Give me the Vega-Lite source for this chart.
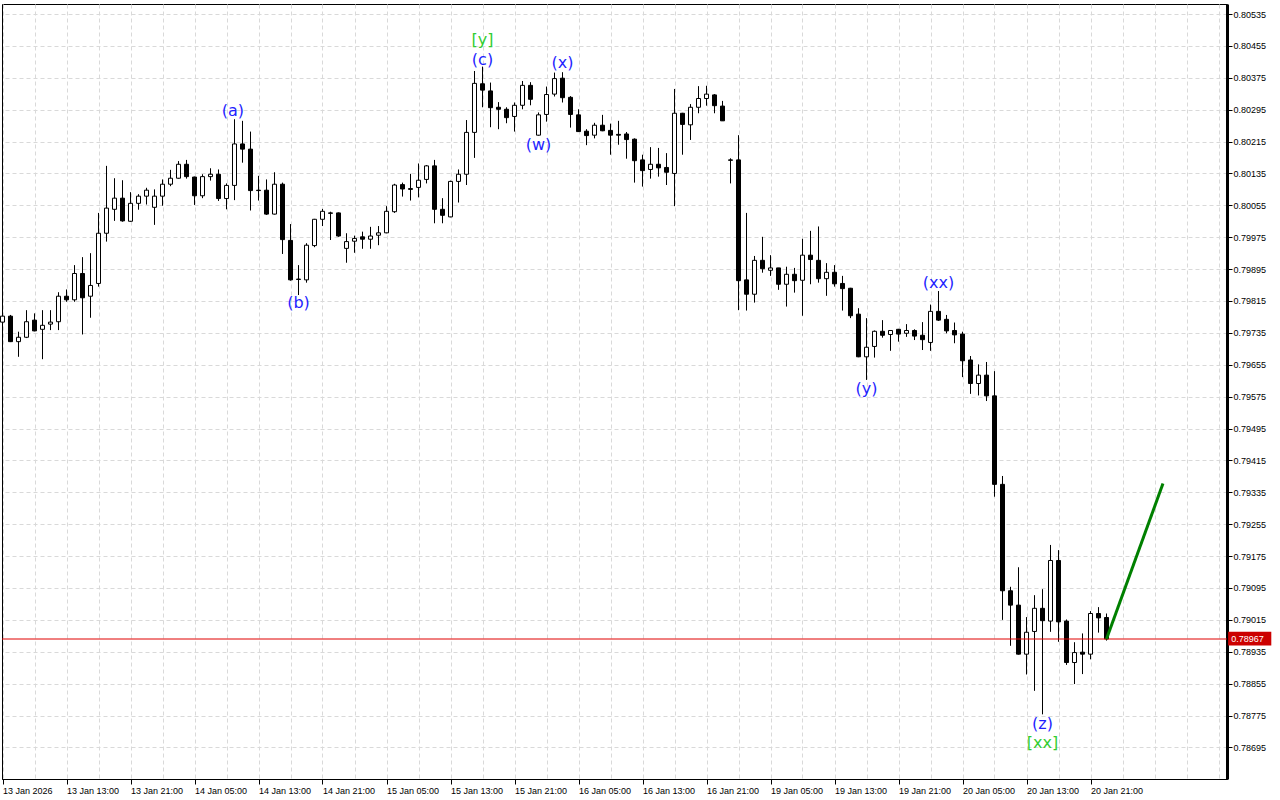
{
  "$schema": "https://vega.github.io/schema/vega-lite/v6.json",
  "width": 1225,
  "height": 775,
  "autosize": {"type": "none"},
  "padding": {"left": 2, "top": 4, "right": 53, "bottom": 21},
  "background": "white",
  "config": {
    "view": {"stroke": "black", "strokeWidth": 1},
    "axis": {"labelOverlap": false, "labelBound": false, "labelFlush": false},
    "scale": {"continuousPadding": 0}
  },
  "datasets": {
    "candles": [
      {"i":0,"o":0.79762,"h":0.79782,"l":0.79760,"c":0.79777},
      {"i":1,"o":0.79777,"h":0.79780,"l":0.79712,"c":0.79713},
      {"i":2,"o":0.79713,"h":0.79738,"l":0.79675,"c":0.79724},
      {"i":3,"o":0.79724,"h":0.79792,"l":0.79722,"c":0.79763},
      {"i":4,"o":0.79767,"h":0.79784,"l":0.79739,"c":0.79740},
      {"i":5,"o":0.79744,"h":0.79792,"l":0.79669,"c":0.79754},
      {"i":6,"o":0.79757,"h":0.79792,"l":0.79742,"c":0.79762},
      {"i":7,"o":0.79763,"h":0.79837,"l":0.79742,"c":0.79827},
      {"i":8,"o":0.79827,"h":0.79844,"l":0.79813,"c":0.79818},
      {"i":9,"o":0.79818,"h":0.79905,"l":0.79813,"c":0.79884},
      {"i":10,"o":0.79884,"h":0.79925,"l":0.79731,"c":0.79823},
      {"i":11,"o":0.79827,"h":0.79935,"l":0.79773,"c":0.79854},
      {"i":12,"o":0.79859,"h":0.80036,"l":0.79851,"c":0.79985},
      {"i":13,"o":0.79985,"h":0.80154,"l":0.79964,"c":0.80048},
      {"i":14,"o":0.80045,"h":0.80123,"l":0.80016,"c":0.80073},
      {"i":15,"o":0.80073,"h":0.80118,"l":0.80014,"c":0.80016},
      {"i":16,"o":0.80015,"h":0.80088,"l":0.80014,"c":0.80060},
      {"i":17,"o":0.80060,"h":0.80083,"l":0.80044,"c":0.80078},
      {"i":18,"o":0.80078,"h":0.80099,"l":0.80057,"c":0.80093},
      {"i":19,"o":0.80050,"h":0.80095,"l":0.80006,"c":0.80078},
      {"i":20,"o":0.80078,"h":0.80120,"l":0.80054,"c":0.80108},
      {"i":21,"o":0.80108,"h":0.80144,"l":0.80103,"c":0.80123},
      {"i":22,"o":0.80123,"h":0.80166,"l":0.80122,"c":0.80158},
      {"i":23,"o":0.80158,"h":0.80169,"l":0.80122,"c":0.80127},
      {"i":24,"o":0.80126,"h":0.80127,"l":0.80056,"c":0.80079},
      {"i":25,"o":0.80079,"h":0.80133,"l":0.80073,"c":0.80127},
      {"i":26,"o":0.80127,"h":0.80148,"l":0.80117,"c":0.80133},
      {"i":27,"o":0.80133,"h":0.80145,"l":0.80066,"c":0.80072},
      {"i":28,"o":0.80072,"h":0.80110,"l":0.80045,"c":0.80105},
      {"i":29,"o":0.80105,"h":0.80271,"l":0.80068,"c":0.80209},
      {"i":30,"o":0.80209,"h":0.80267,"l":0.80162,"c":0.80196},
      {"i":31,"o":0.80196,"h":0.80240,"l":0.80042,"c":0.80092},
      {"i":32,"o":0.80093,"h":0.80129,"l":0.80067,"c":0.80092},
      {"i":33,"o":0.80093,"h":0.80120,"l":0.80031,"c":0.80033},
      {"i":34,"o":0.80033,"h":0.80138,"l":0.80032,"c":0.80108},
      {"i":35,"o":0.80108,"h":0.80112,"l":0.79933,"c":0.79969},
      {"i":36,"o":0.79967,"h":0.80008,"l":0.79866,"c":0.79868},
      {"i":37,"o":0.79870,"h":0.79905,"l":0.79830,"c":0.79869},
      {"i":38,"o":0.79868,"h":0.79960,"l":0.79861,"c":0.79955},
      {"i":39,"o":0.79954,"h":0.80021,"l":0.79950,"c":0.80020},
      {"i":40,"o":0.80020,"h":0.80046,"l":0.80003,"c":0.80040},
      {"i":41,"o":0.80036,"h":0.80039,"l":0.79968,"c":0.80035},
      {"i":42,"o":0.80036,"h":0.80037,"l":0.79976,"c":0.79978},
      {"i":43,"o":0.79947,"h":0.79985,"l":0.79911,"c":0.79964},
      {"i":44,"o":0.79965,"h":0.79979,"l":0.79936,"c":0.79972},
      {"i":45,"o":0.79976,"h":0.79989,"l":0.79946,"c":0.79970},
      {"i":46,"o":0.79970,"h":0.80001,"l":0.79946,"c":0.79978},
      {"i":47,"o":0.79980,"h":0.80003,"l":0.79955,"c":0.79986},
      {"i":48,"o":0.79986,"h":0.80053,"l":0.79985,"c":0.80040},
      {"i":49,"o":0.80039,"h":0.80109,"l":0.80036,"c":0.80106},
      {"i":50,"o":0.80107,"h":0.80112,"l":0.80077,"c":0.80096},
      {"i":51,"o":0.80097,"h":0.80134,"l":0.80067,"c":0.80095},
      {"i":52,"o":0.80100,"h":0.80160,"l":0.80075,"c":0.80118},
      {"i":53,"o":0.80120,"h":0.80156,"l":0.80110,"c":0.80154},
      {"i":54,"o":0.80154,"h":0.80169,"l":0.80010,"c":0.80045},
      {"i":55,"o":0.80045,"h":0.80073,"l":0.80010,"c":0.80030},
      {"i":56,"o":0.80026,"h":0.80117,"l":0.80025,"c":0.80115},
      {"i":57,"o":0.80115,"h":0.80145,"l":0.80062,"c":0.80133},
      {"i":58,"o":0.80133,"h":0.80269,"l":0.80106,"c":0.80238},
      {"i":59,"o":0.80238,"h":0.80392,"l":0.80174,"c":0.80361},
      {"i":60,"o":0.80360,"h":0.80403,"l":0.80301,"c":0.80344},
      {"i":61,"o":0.80342,"h":0.80363,"l":0.80251,"c":0.80300},
      {"i":62,"o":0.80301,"h":0.80314,"l":0.80246,"c":0.80296},
      {"i":63,"o":0.80296,"h":0.80301,"l":0.80261,"c":0.80275},
      {"i":64,"o":0.80278,"h":0.80313,"l":0.80240,"c":0.80306},
      {"i":65,"o":0.80306,"h":0.80367,"l":0.80296,"c":0.80356},
      {"i":66,"o":0.80356,"h":0.80364,"l":0.80306,"c":0.80321},
      {"i":67,"o":0.80231,"h":0.80288,"l":0.80230,"c":0.80282},
      {"i":68,"o":0.80283,"h":0.80353,"l":0.80265,"c":0.80333},
      {"i":69,"o":0.80334,"h":0.80388,"l":0.80328,"c":0.80373},
      {"i":70,"o":0.80374,"h":0.80389,"l":0.80313,"c":0.80325},
      {"i":71,"o":0.80326,"h":0.80329,"l":0.80250,"c":0.80283},
      {"i":72,"o":0.80282,"h":0.80296,"l":0.80239,"c":0.80240},
      {"i":73,"o":0.80241,"h":0.80246,"l":0.80206,"c":0.80230},
      {"i":74,"o":0.80231,"h":0.80262,"l":0.80223,"c":0.80256},
      {"i":75,"o":0.80256,"h":0.80282,"l":0.80241,"c":0.80242},
      {"i":76,"o":0.80243,"h":0.80260,"l":0.80182,"c":0.80231},
      {"i":77,"o":0.80233,"h":0.80267,"l":0.80207,"c":0.80231},
      {"i":78,"o":0.80234,"h":0.80239,"l":0.80172,"c":0.80220},
      {"i":79,"o":0.80221,"h":0.80223,"l":0.80112,"c":0.80167},
      {"i":80,"o":0.80169,"h":0.80182,"l":0.80102,"c":0.80142},
      {"i":81,"o":0.80145,"h":0.80201,"l":0.80122,"c":0.80158},
      {"i":82,"o":0.80158,"h":0.80199,"l":0.80127,"c":0.80149},
      {"i":83,"o":0.80150,"h":0.80186,"l":0.80106,"c":0.80138},
      {"i":84,"o":0.80135,"h":0.80347,"l":0.80053,"c":0.80286},
      {"i":85,"o":0.80286,"h":0.80287,"l":0.80182,"c":0.80258},
      {"i":86,"o":0.80257,"h":0.80309,"l":0.80219,"c":0.80301},
      {"i":87,"o":0.80301,"h":0.80354,"l":0.80286,"c":0.80323},
      {"i":88,"o":0.80323,"h":0.80355,"l":0.80305,"c":0.80334},
      {"i":89,"o":0.80332,"h":0.80334,"l":0.80286,"c":0.80305},
      {"i":90,"o":0.80304,"h":0.80317,"l":0.80267,"c":0.80267},
      {"i":91,"o":0.80169,"h":0.80173,"l":0.80110,"c":0.80168},
      {"i":92,"o":0.80169,"h":0.80231,"l":0.79792,"c":0.79866},
      {"i":93,"o":0.79868,"h":0.80036,"l":0.79791,"c":0.79832},
      {"i":94,"o":0.79832,"h":0.79928,"l":0.79811,"c":0.79917},
      {"i":95,"o":0.79917,"h":0.79976,"l":0.79886,"c":0.79896},
      {"i":96,"o":0.79892,"h":0.79930,"l":0.79878,"c":0.79898},
      {"i":97,"o":0.79898,"h":0.79898,"l":0.79843,"c":0.79857},
      {"i":98,"o":0.79857,"h":0.79901,"l":0.79801,"c":0.79882},
      {"i":99,"o":0.79882,"h":0.79898,"l":0.79836,"c":0.79866},
      {"i":100,"o":0.79867,"h":0.79971,"l":0.79778,"c":0.79930},
      {"i":101,"o":0.79930,"h":0.79991,"l":0.79857,"c":0.79919},
      {"i":102,"o":0.79917,"h":0.80002,"l":0.79861,"c":0.79871},
      {"i":103,"o":0.79871,"h":0.79910,"l":0.79828,"c":0.79887},
      {"i":104,"o":0.79887,"h":0.79905,"l":0.79851,"c":0.79858},
      {"i":105,"o":0.79859,"h":0.79878,"l":0.79791,"c":0.79846},
      {"i":106,"o":0.79847,"h":0.79848,"l":0.79772,"c":0.79778},
      {"i":107,"o":0.79782,"h":0.79797,"l":0.79674,"c":0.79675},
      {"i":108,"o":0.79675,"h":0.79772,"l":0.79617,"c":0.79699},
      {"i":109,"o":0.79701,"h":0.79741,"l":0.79673,"c":0.79739},
      {"i":110,"o":0.79739,"h":0.79767,"l":0.79723,"c":0.79729},
      {"i":111,"o":0.79731,"h":0.79742,"l":0.79690,"c":0.79741},
      {"i":112,"o":0.79744,"h":0.79745,"l":0.79713,"c":0.79732},
      {"i":113,"o":0.79734,"h":0.79757,"l":0.79725,"c":0.79741},
      {"i":114,"o":0.79741,"h":0.79744,"l":0.79717,"c":0.79727},
      {"i":115,"o":0.79729,"h":0.79762,"l":0.79692,"c":0.79718},
      {"i":116,"o":0.79711,"h":0.79806,"l":0.79690,"c":0.79789},
      {"i":117,"o":0.79789,"h":0.79840,"l":0.79765,"c":0.79767},
      {"i":118,"o":0.79769,"h":0.79780,"l":0.79734,"c":0.79740},
      {"i":119,"o":0.79741,"h":0.79761,"l":0.79709,"c":0.79730},
      {"i":120,"o":0.79732,"h":0.79738,"l":0.79624,"c":0.79665},
      {"i":121,"o":0.79667,"h":0.79677,"l":0.79582,"c":0.79608},
      {"i":122,"o":0.79608,"h":0.79656,"l":0.79578,"c":0.79629},
      {"i":123,"o":0.79629,"h":0.79662,"l":0.79564,"c":0.79577},
      {"i":124,"o":0.79577,"h":0.79639,"l":0.79324,"c":0.79355},
      {"i":125,"o":0.79355,"h":0.79376,"l":0.79015,"c":0.79088},
      {"i":126,"o":0.79088,"h":0.79098,"l":0.78950,"c":0.79052},
      {"i":127,"o":0.79052,"h":0.79147,"l":0.78928,"c":0.78929},
      {"i":128,"o":0.78929,"h":0.79022,"l":0.78878,"c":0.78984},
      {"i":129,"o":0.78986,"h":0.79077,"l":0.78837,"c":0.79044},
      {"i":130,"o":0.79044,"h":0.79092,"l":0.78778,"c":0.79013},
      {"i":131,"o":0.79012,"h":0.79203,"l":0.78985,"c":0.79164},
      {"i":132,"o":0.79164,"h":0.79190,"l":0.78960,"c":0.79010},
      {"i":133,"o":0.79012,"h":0.79016,"l":0.78902,"c":0.78908},
      {"i":134,"o":0.78908,"h":0.78959,"l":0.78854,"c":0.78933},
      {"i":135,"o":0.78934,"h":0.78981,"l":0.78879,"c":0.78929},
      {"i":136,"o":0.78929,"h":0.79037,"l":0.78916,"c":0.79031},
      {"i":137,"o":0.79031,"h":0.79047,"l":0.78983,"c":0.79020},
      {"i":138,"o":0.79021,"h":0.79031,"l":0.78963,"c":0.78967}
    ],
    "waves": [
      {"t":"(a)","i":28.8,"p":0.80292,"g":"b"},
      {"t":"(b)","i":37,"p":0.79811,"g":"b"},
      {"t":"[y]","i":60,"p":0.80470,"g":"g"},
      {"t":"(c)","i":60,"p":0.80420,"g":"b"},
      {"t":"(w)","i":67,"p":0.80207,"g":"b"},
      {"t":"(x)","i":70,"p":0.80411,"g":"b"},
      {"t":"(y)","i":108,"p":0.79594,"g":"b"},
      {"t":"(xx)","i":117,"p":0.79859,"g":"b"},
      {"t":"(z)","i":130,"p":0.78754,"g":"b"},
      {"t":"[xx]","i":130,"p":0.78707,"g":"g"}
    ],
    "proj": [
      {"i":138,"p":0.78967},
      {"i":145.06,"p":0.79357}
    ],
    "last": [
      {"price":0.78967,"label":"0.78967"}
    ]
  },
  "layer": [
    {
      "data": {"name": "candles"},
      "mark": {"type": "rule", "color": "black", "strokeWidth": 1},
      "encoding": {
        "x": {
          "field": "i", "type": "quantitative", "title": null,
          "scale": {"domain": [-0.0625, 153.0625], "nice": false, "zero": false, "padding": 0},
          "axis": {
            "orient": "bottom",
            "values": [0,4,8,12,16,20,24,28,32,36,40,44,48,52,56,60,64,68,72,76,80,84,88,92,96,100,104,108,112,116,120,124,128,132,136,140,144,148,152],
            "tickCount": 1000,
            "grid": true,
            "gridColor": "#d9d9d9",
            "gridDash": [4, 3],
            "domain": true,
            "domainColor": "black",
            "domainWidth": 1,
            "ticks": true,
            "tickSize": 5,
            "tickColor": {"condition": {"test": "datum.value % 8 == 0 && datum.value <= 136", "value": "black"}, "value": "transparent"},
            "labelFont": "Liberation Sans",
            "labelFontSize": 9,
            "labelColor": "black",
            "labelAlign": "left",
            "labelBaseline": "top",
            "labelPadding": 2,
            "labelOverlap": false,
            "labelFlush": false,
            "labelExpr": "datum.value % 8 == 0 && datum.value <= 136 ? split('13 Jan 2026|13 Jan 13:00|13 Jan 21:00|14 Jan 05:00|14 Jan 13:00|14 Jan 21:00|15 Jan 05:00|15 Jan 13:00|15 Jan 21:00|16 Jan 05:00|16 Jan 13:00|16 Jan 21:00|19 Jan 05:00|19 Jan 13:00|19 Jan 21:00|20 Jan 05:00|20 Jan 13:00|20 Jan 21:00', '|')[round(datum.value / 8)] : ''"
          }
        },
        "y": {
          "field": "l", "type": "quantitative", "title": null,
          "scale": {"domain": [0.786158, 0.805601], "nice": false, "zero": false, "padding": 0},
          "axis": {
            "orient": "right",
            "values": [0.80535,0.80455,0.80375,0.80295,0.80215,0.80135,0.80055,0.79975,0.79895,0.79815,0.79735,0.79655,0.79575,0.79495,0.79415,0.79335,0.79255,0.79175,0.79095,0.79015,0.78935,0.78855,0.78775,0.78695],
            "tickCount": 1000,
            "format": ".5f",
            "grid": true,
            "gridColor": "#d9d9d9",
            "gridDash": [4, 3],
            "domain": true,
            "domainColor": "black",
            "domainWidth": 3,
            "ticks": true,
            "tickSize": 5,
            "tickColor": "black",
            "labelFont": "Liberation Sans",
            "labelFontSize": 9,
            "labelColor": "black",
            "labelAlign": "left",
            "labelBaseline": "middle",
            "labelPadding": 1,
            "labelOverlap": false,
            "labelFlush": false
          }
        },
        "y2": {"field": "h"}
      }
    },
    {
      "data": {"name": "candles"},
      "mark": {"type": "bar", "size": 4, "stroke": "black", "strokeWidth": 1},
      "encoding": {
        "x": {"field": "i", "type": "quantitative", "title": null, "scale": {"domain": [-0.0625, 153.0625], "nice": false, "zero": false, "padding": 0}},
        "y": {"field": "o", "type": "quantitative", "title": null, "scale": {"domain": [0.786158, 0.805601], "nice": false, "zero": false, "padding": 0}},
        "y2": {"field": "c"},
        "fill": {"condition": {"test": "datum.c > datum.o", "value": "white"}, "value": "black"}
      }
    },
    {
      "data": {"name": "last"},
      "mark": {"type": "rule", "color": "#e00000", "strokeWidth": 1},
      "encoding": {
        "y": {"field": "price", "type": "quantitative", "title": null, "scale": {"domain": [0.786158, 0.805601], "nice": false, "zero": false, "padding": 0}}
      }
    },
    {
      "data": {"name": "last"},
      "mark": {"type": "rect", "color": "#cc0000"},
      "encoding": {
        "x": {"datum": 153.2, "type": "quantitative", "title": null, "scale": {"domain": [-0.0625, 153.0625], "nice": false, "zero": false, "padding": 0}},
        "x2": {"datum": 158.6},
        "y": {"datum": 0.78985, "type": "quantitative", "title": null, "scale": {"domain": [0.786158, 0.805601], "nice": false, "zero": false, "padding": 0}},
        "y2": {"datum": 0.78951}
      }
    },
    {
      "data": {"name": "last"},
      "mark": {"type": "text", "color": "white", "font": "Liberation Sans", "fontSize": 9, "align": "left", "baseline": "middle"},
      "encoding": {
        "x": {"datum": 153.6, "type": "quantitative", "title": null, "scale": {"domain": [-0.0625, 153.0625], "nice": false, "zero": false, "padding": 0}},
        "y": {"field": "price", "type": "quantitative", "title": null, "scale": {"domain": [0.786158, 0.805601], "nice": false, "zero": false, "padding": 0}},
        "text": {"field": "label"}
      }
    },
    {
      "data": {"name": "proj"},
      "mark": {"type": "line", "color": "#008000", "strokeWidth": 3, "strokeCap": "butt"},
      "encoding": {
        "x": {"field": "i", "type": "quantitative", "title": null, "scale": {"domain": [-0.0625, 153.0625], "nice": false, "zero": false, "padding": 0}},
        "y": {"field": "p", "type": "quantitative", "title": null, "scale": {"domain": [0.786158, 0.805601], "nice": false, "zero": false, "padding": 0}}
      }
    },
    {
      "data": {"name": "waves"},
      "mark": {"type": "text", "font": "DejaVu Sans", "fontSize": 16, "align": "center", "baseline": "middle"},
      "encoding": {
        "x": {"field": "i", "type": "quantitative", "title": null, "scale": {"domain": [-0.0625, 153.0625], "nice": false, "zero": false, "padding": 0}},
        "y": {"field": "p", "type": "quantitative", "title": null, "scale": {"domain": [0.786158, 0.805601], "nice": false, "zero": false, "padding": 0}},
        "text": {"field": "t"},
        "color": {"condition": {"test": "datum.g === 'g'", "value": "#32cd32"}, "value": "#1f1fff"}
      }
    }
  ]
}
